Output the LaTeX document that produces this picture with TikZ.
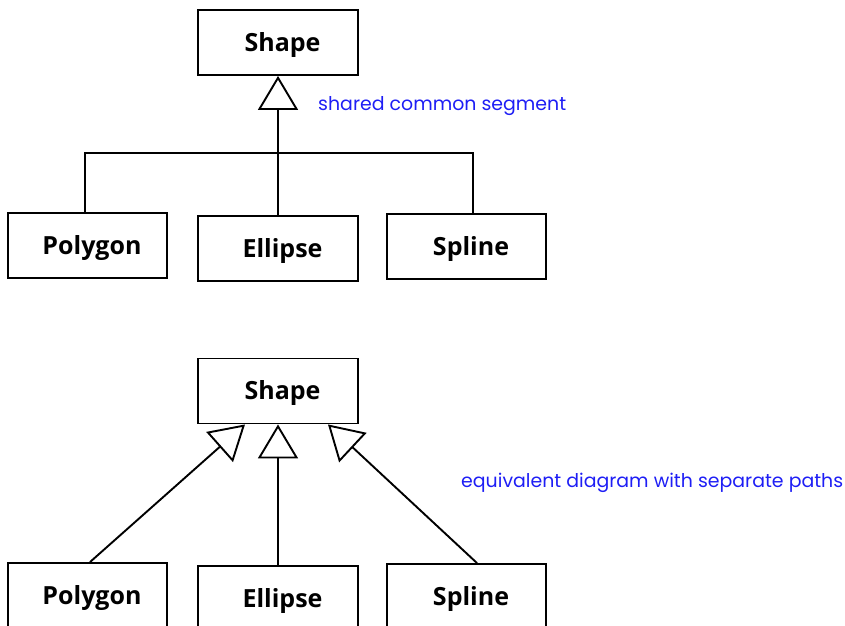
\documentclass[tikz,border=0pt]{standalone}
\usepackage{fontspec}
\usepackage{graphicx}
\setmainfont{Open Sans}
\newfontfamily\notefont{Poppins}
\usetikzlibrary{arrows.meta,calc}
\definecolor{noteblue}{RGB}{30,30,245}
\tikzset{
  cls/.style={draw, line width=1.9pt, minimum width=159pt, minimum height=65pt,
    inner sep=0pt, font=\fontsize{25}{29}\selectfont\bfseries,
    text height=17.8pt, text depth=0pt, execute at begin node={\hspace*{9pt}}},
  midcls/.style={cls, minimum width=160pt},
  conn/.style={line width=1.9pt},
  inh/.style={line width=1.9pt, -{Triangle[fill=white, length=34pt, width=40pt]}},
  note/.style={text=noteblue, font=\notefont\fontsize{18}{20}\selectfont,
    inner sep=0pt, anchor=base west},
}
\begin{document}
\begin{tikzpicture}[x=1pt,y=1pt]
\useasboundingbox (0,0) rectangle (845,-625);
% top diagram
\node[midcls] (shape1) at (278,-42.5) {Shape};
\node[cls] (poly1) at (87.5,-245.5) {Polygon};
\node[midcls] (ell1) at (278,-248.5) {Ellipse};
\node[cls] (spl1) at (466.5,-246.5) {Spline};
\coordinate (bus) at (278,-153);
\draw[conn] ($(poly1.north)+(-2.5,0)$) |- (bus) -| ($(spl1.north)+(6.5,0)$);
\draw[inh] (ell1.north) -- (shape1.south);
\node[note] (n1) at (318,-110) {\resizebox{248pt}{!}{shared common segment}};
% bottom diagram
\node[midcls] (shape2) at (278,-391) {Shape};
\node[cls] (poly2) at (87.5,-595.5) {Polygon};
\node[midcls] (ell2) at (278,-598.5) {Ellipse};
\node[cls] (spl2) at (466.5,-596.5) {Spline};
\draw[inh] ($(poly2.north)+(2.5,0)$) -- ($(shape2.south)+(-33,0)$);
\draw[inh] (ell2.north) -- (shape2.south);
\draw[inh] ($(spl2.north)+(10.5,0)$) -- ($(shape2.south)+(50,0)$);
\node[note] (n2) at (461,-487) {\resizebox{382pt}{!}{equivalent diagram with separate paths}};
\end{tikzpicture}
\end{document}
